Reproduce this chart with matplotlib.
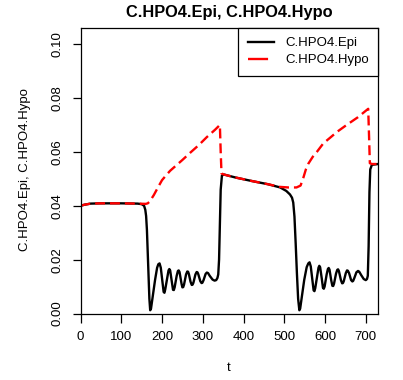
import matplotlib
matplotlib.use('Agg')
import matplotlib.pyplot as plt
from matplotlib.lines import Line2D

plt.rcParams['font.family'] = ['Liberation Sans', 'DejaVu Sans']

# C.HPO4.Epi, split by phase
t_epi_a = [0, 10, 25, 50, 100, 140, 150, 156, 159, 161, 163, 165, 167, 169, 171]
c_epi_a = [0.0400, 0.0404, 0.0408, 0.0409, 0.0409, 0.0408, 0.0406, 0.0400, 0.0385, 0.0362,
           0.0310, 0.0230, 0.0140, 0.0055, 0.0012]

t_epi_b = [173, 177, 183, 188, 191, 194, 197, 201, 204, 206,
           208, 213, 216, 218, 220, 224, 227, 229, 231, 236,
           239, 241, 243, 248, 250, 252, 254, 259, 262, 264,
           266, 270, 273, 275, 277, 282, 285, 287, 289, 294,
           297, 299, 302, 307, 310, 313, 317, 324, 329, 333,
           336, 338]
c_epi_b = [0.0018, 0.0060, 0.0125, 0.0170, 0.0183, 0.0186, 0.0170, 0.0120, 0.0080, 0.0077,
           0.0090, 0.0135, 0.0160, 0.0165, 0.0160, 0.0120, 0.0088, 0.0087, 0.0097, 0.0140,
           0.0158, 0.0160, 0.0154, 0.0110, 0.0097, 0.0098, 0.0107, 0.0145, 0.0156, 0.0155,
           0.0146, 0.0118, 0.0106, 0.0107, 0.0114, 0.0145, 0.0154, 0.0153, 0.0146, 0.0120,
           0.0113, 0.0114, 0.0124, 0.0147, 0.0152, 0.0150, 0.0140, 0.0126, 0.0122, 0.0124,
           0.0132, 0.0145]

t_epi_c = [340, 342, 344, 347, 352, 380, 420, 460, 490, 505, 514, 519, 522, 525, 528, 531,
           534, 537]
c_epi_c = [0.0200, 0.0330, 0.0460, 0.0512, 0.0516, 0.0505, 0.0492, 0.0480, 0.0468, 0.0455,
           0.0442, 0.0430, 0.0412, 0.0360, 0.0260, 0.0150, 0.0055, 0.0012]

t_epi_d = [539, 543, 549, 555, 559, 562, 565, 569, 572, 574,
           576, 581, 584, 586, 588, 592, 595, 597, 599, 604,
           607, 609, 611, 615, 618, 620, 622, 627, 630, 632,
           634, 639, 642, 644, 646, 651, 654, 656, 659, 664,
           667, 669, 672, 677, 681, 684, 689, 695, 700, 703,
           705]
c_epi_d = [0.0018, 0.0060, 0.0125, 0.0172, 0.0186, 0.0190, 0.0175, 0.0125, 0.0086, 0.0083,
           0.0094, 0.0140, 0.0170, 0.0177, 0.0172, 0.0130, 0.0095, 0.0092, 0.0100, 0.0145,
           0.0165, 0.0169, 0.0163, 0.0125, 0.0103, 0.0102, 0.0110, 0.0148, 0.0162, 0.0164,
           0.0158, 0.0124, 0.0112, 0.0113, 0.0120, 0.0150, 0.0160, 0.0159, 0.0150, 0.0124,
           0.0119, 0.0121, 0.0132, 0.0153, 0.0158, 0.0155, 0.0142, 0.0128, 0.0124, 0.0128,
           0.0140]

t_epi_e = [707, 709, 711, 715, 730]
c_epi_e = [0.0250, 0.0450, 0.0535, 0.0552, 0.0555]

# C.HPO4.Hypo
t_hypo = [0, 10, 25, 50, 100, 140, 160, 165, 170, 175,
          180, 190, 200, 210, 220, 235, 250, 270, 290, 310,
          330, 342, 344, 346, 352, 380, 420, 460, 490, 510,
          530, 540, 547, 553, 559, 570, 580, 596, 612, 630,
          653, 680, 706, 708, 710, 715, 730]
c_hypo = [0.0400, 0.0404, 0.0408, 0.0409, 0.0409, 0.0408, 0.0407, 0.0409, 0.0416, 0.0428,
          0.0440, 0.0468, 0.0495, 0.0513, 0.0530, 0.0550, 0.0570, 0.0598, 0.0625, 0.0655,
          0.0682, 0.0700, 0.0600, 0.0520, 0.0516, 0.0505, 0.0492, 0.0480, 0.0470, 0.0468,
          0.0468, 0.0475, 0.0505, 0.0535, 0.0556, 0.0582, 0.0600, 0.0632, 0.0652, 0.0675,
          0.0700, 0.0728, 0.0760, 0.0660, 0.0558, 0.0555, 0.0555]

x_ticks = [0, 100, 200, 300, 400, 500, 600, 700]
y_ticks = [0.00, 0.02, 0.04, 0.06, 0.08, 0.10]
labels = ['C.HPO4.Epi', 'C.HPO4.Hypo']

t_epi = t_epi_a + t_epi_b + t_epi_c + t_epi_d + t_epi_e
c_epi = c_epi_a + c_epi_b + c_epi_c + c_epi_d + c_epi_e

W, H = 403, 380
fig = plt.figure(figsize=(W / 100, H / 100), dpi=100)
ax = fig.add_axes([80.5 / W, 1 - 313.5 / H, (378 - 80.5) / W, (313.5 - 28) / H])

lw = 1.7
ax.plot(t_epi, c_epi, color='black', lw=lw, solid_joinstyle='round')
ax.plot(t_hypo, c_hypo, color='red', lw=lw, dashes=(4.2, 2.1), dash_capstyle='butt')

ax.set_xlim(0, 730)
ax.set_ylim(0, 0.106)
ax.set_xticks(x_ticks)
ax.set_xticklabels([str(v) for v in x_ticks], fontsize=9.5)
ax.set_yticks(y_ticks)
ax.set_yticklabels(['%.2f' % v for v in y_ticks], fontsize=9.5, rotation=90, va='center')
ax.tick_params(axis='x', direction='out', length=6.5, width=0.9, pad=6)
ax.tick_params(axis='y', direction='out', length=6, width=0.9, pad=6)
for s in ax.spines.values():
    s.set_linewidth(0.9)

fig.text(229 / W, 1 - 13 / H, 'C.HPO4.Epi, C.HPO4.Hypo', ha='center', va='center',
         fontsize=11.8, fontweight='bold')
fig.text(229 / W, 1 - 368 / H, 't', ha='center', va='center', fontsize=9.5)
fig.text(25 / W, 1 - 170 / H, 'C.HPO4.Epi, C.HPO4.Hypo', ha='center', va='center',
         rotation=90, fontsize=9.5)

handles = [Line2D([], [], color='black', lw=lw),
           Line2D([], [], color='red', lw=lw, dashes=(8.5, 10), dash_capstyle='butt')]
leg = ax.legend(handles, labels, loc='upper right', borderaxespad=0, fancybox=False,
                framealpha=1, edgecolor='black', fontsize=9.5, handlelength=2.0,
                handletextpad=0.85, borderpad=0.7, labelspacing=0.35)
leg.get_frame().set_linewidth(0.9)

fig.savefig('out.png', dpi=100)
